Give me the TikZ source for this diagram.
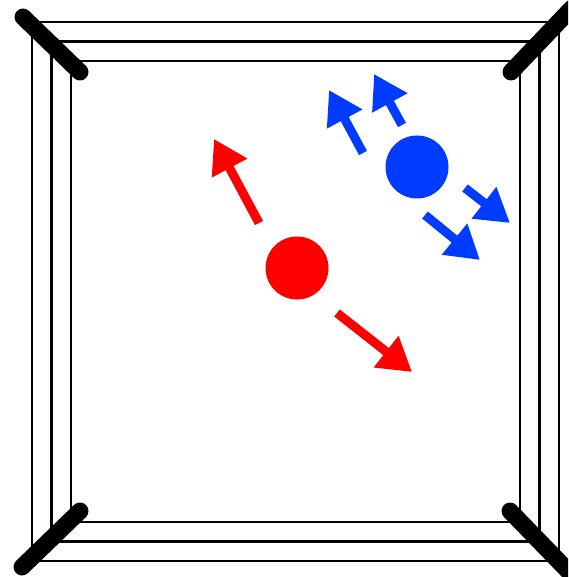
\documentclass[tikz,border=0pt]{standalone}
\usetikzlibrary{arrows.meta}
\definecolor{boxred}{RGB}{255,0,0}
\definecolor{boxblue}{RGB}{0,60,255}
\begin{document}
\begin{tikzpicture}[x=0.02cm, y=-0.02cm, line join=round, line cap=round,
	rope/.style={line width=2.7*0.02cm, black},
	post/.style={line width=17*0.02cm, black, line cap=round},
	boxer/.style={circle, inner sep=0pt, minimum size=63*0.02cm},
	push/.style={line width=9*0.02cm, line cap=butt, -{Triangle[length=0.66cm, width=0.76cm]}}]
	\def\w{568} \def\h{577}
	\useasboundingbox (0,0) rectangle (\w,\h);
	\clip (0,0) rectangle (\w,\h);
	% ropes
	\foreach \d in {0,19.5,39} {\draw[rope] (32+\d,22+\d) rectangle (559-\d,561-\d);}
	% corner posts
	\foreach \a/\b in {{(23,17)}/{(80,72)}, {(511,72)}/{(572,8)}, {(80,511)}/{(22,567)}, {(510,511)}/{(575,578)}} {\draw[post] \a--\b;}
	% boxers
	\node[boxer, fill=boxred] (red) at (297,268) {};
	\node[boxer, fill=boxblue] (blue) at (417,167) {};
	\coordinate (red1) at (214,139); \coordinate (red2) at (412,372);
	\coordinate (blue1) at (329,90); \coordinate (blue2) at (374,74);
	\coordinate (blue3) at (510,223); \coordinate (blue4) at (480,260);
	\draw[push, boxred] ([shift={(-38,-45)}]red.center)--(red1);
	\draw[push, boxred] ([shift={(40,45)}]red.center)--(red2);
	\draw[push, boxblue] ([shift={(-54,-14)}]blue.center)--(blue1);
	\draw[push, boxblue] ([shift={(-15,-42)}]blue.center)--(blue2);
	\draw[push, boxblue] ([shift={(48,21)}]blue.center)--(blue3);
	\draw[push, boxblue] ([shift={(8,48)}]blue.center)--(blue4);
\end{tikzpicture}
\end{document}
